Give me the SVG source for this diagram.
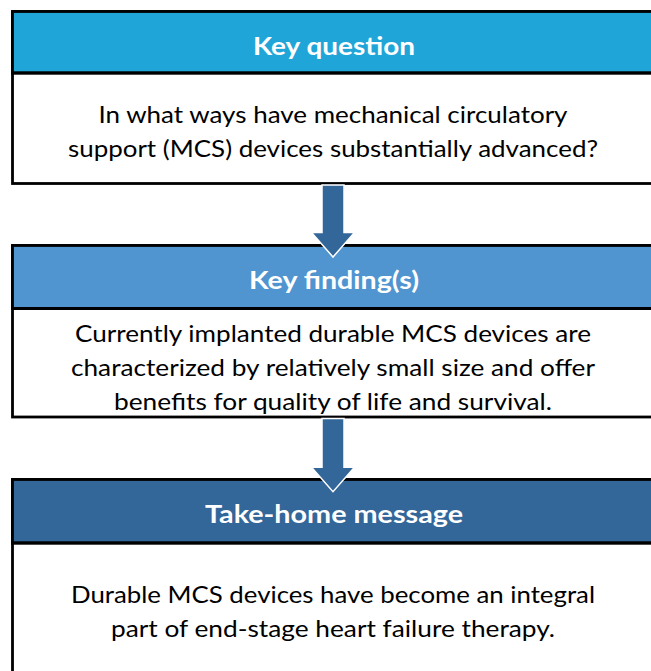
<svg xmlns="http://www.w3.org/2000/svg" width="651" height="671" viewBox="0 0 651 671">
  <style>
    .frame { fill: #ffffff; stroke: #000000; stroke-width: 2.8; }
    .rule { stroke: #000000; stroke-width: 3; }
    .head { font-family: Lato, "Open Sans", "Liberation Sans", sans-serif; font-weight: bold; font-size: 25.5px; fill: #ffffff; text-anchor: middle; }
    .body { font-family: Lato, "Open Sans", "Liberation Sans", sans-serif; font-size: 23px; fill: #000000; text-anchor: middle; }
    .arrow { fill: #336699; stroke: #ffffff; stroke-width: 1.5; stroke-linejoin: miter; }
  </style>
  <rect width="651" height="671" fill="#ffffff"/>

  <!-- Box 1: question -->
  <g id="key-question">
    <rect class="frame" x="12.5" y="11.5" width="660" height="172"/>
    <rect x="12.5" y="11.5" width="660" height="61.5" fill="#1FA5D8" stroke="#000" stroke-width="2.8"/>
    <line class="rule" x1="11" y1="73" x2="672" y2="73"/>
    <text class="head" x="334" y="54.5" textLength="162" lengthAdjust="spacingAndGlyphs">Key question</text>
    <text class="body" x="333" y="122.5" textLength="469" lengthAdjust="spacingAndGlyphs">In what ways have mechanical circulatory</text>
    <text class="body" x="333" y="157" textLength="530" lengthAdjust="spacingAndGlyphs">support (MCS) devices substantially advanced?</text>
  </g>

  <!-- Box 2: findings -->
  <g id="key-findings">
    <rect class="frame" x="12.5" y="245.5" width="660" height="171.5"/>
    <rect x="12.5" y="245.5" width="660" height="63" fill="#5094D0" stroke="#000" stroke-width="2.8"/>
    <line class="rule" x1="11" y1="308.5" x2="672" y2="308.5"/>
    <text class="head" x="334" y="289" textLength="170" lengthAdjust="spacingAndGlyphs">Key finding(s)</text>
    <text class="body" x="333" y="341.5" textLength="516" lengthAdjust="spacingAndGlyphs">Currently implanted durable MCS devices are</text>
    <text class="body" x="333" y="375.5" textLength="524" lengthAdjust="spacingAndGlyphs">characterized by relatively small size and offer</text>
    <text class="body" x="333" y="409.5" textLength="438" lengthAdjust="spacingAndGlyphs">benefits for quality of life and survival.</text>
  </g>

  <!-- Box 3: message -->
  <g id="take-home">
    <rect class="frame" x="12.5" y="479.5" width="660" height="220"/>
    <rect x="12.5" y="479.5" width="660" height="63.5" fill="#336699" stroke="#000" stroke-width="2.8"/>
    <line class="rule" x1="11" y1="543" x2="672" y2="543"/>
    <text class="head" x="334" y="523" textLength="258" lengthAdjust="spacingAndGlyphs">Take-home message</text>
    <text class="body" x="333" y="603" textLength="524" lengthAdjust="spacingAndGlyphs">Durable MCS devices have become an integral</text>
    <text class="body" x="333" y="637" textLength="444" lengthAdjust="spacingAndGlyphs">part of end-stage heart failure therapy.</text>
  </g>

  <!-- Block arrows between boxes -->
  <g id="connectors">
    <polygon class="arrow" points="322,185 344,185 344,232.5 354.5,232.5 333,257 311.5,232.5 322,232.5"/>
    <polygon class="arrow" points="322,418.5 344,418.5 344,467.3 354.5,467.3 333,491.7 311.5,467.3 322,467.3"/>
  </g>
</svg>
